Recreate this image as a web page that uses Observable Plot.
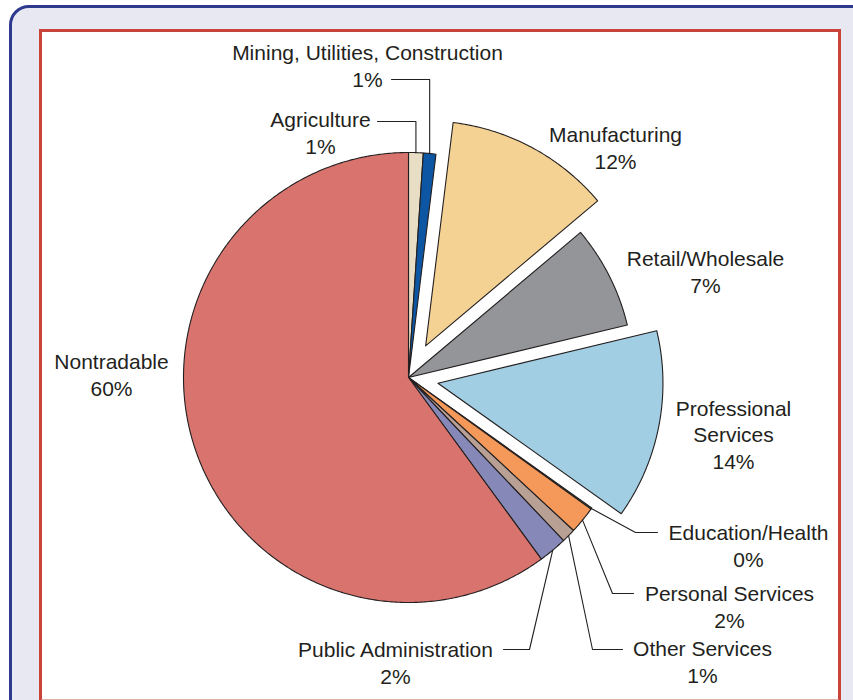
<!DOCTYPE html>
<html><head><meta charset="utf-8">
<script src="https://cdn.jsdelivr.net/npm/d3@7"></script>
<script src="https://cdn.jsdelivr.net/npm/@observablehq/plot@0.6"></script>
<style>
html,body{margin:0;padding:0;width:853px;height:700px;overflow:hidden;background:#fff;font-family:"Liberation Sans",Arial,sans-serif;}
#outer{position:absolute;left:9px;top:5px;width:900px;height:760px;border:3px solid #2d3a8e;border-radius:20px 0 0 0;background:#e8e8f3;box-sizing:border-box;}
#inner{position:absolute;left:39px;top:29px;width:802px;height:673px;border:3px solid #c9433a;border-bottom-color:#e6aaa5;background:#fff;box-sizing:border-box;}
#chart{position:absolute;left:0;top:0;}
</style></head><body>
<div id="outer"></div><div id="inner"></div><div id="chart"></div>
<script>
// ---- data ----
const sectors = ["Agriculture","Mining, Utilities, Construction","Manufacturing","Retail/Wholesale","Professional Services","Education/Health","Personal Services","Other Services","Public Administration","Nontradable"];
const shares = [1.05, 0.9, 11.9, 7.4, 13.6, 0.1, 1.95, 1.0, 2.05, 60.05];
const shareLabels = ["1%","1%","12%","7%","14%","0%","2%","1%","2%","60%"];

// ---- styles / layout ----
const colors = ["#e7dec5","#0c56a3","#f4d294","#939598","#a2cee3","#5b7f4f","#f5995a","#b9a095","#8688b8","#d8746d"];
const explode = [0,0,36,0,30,0,0,0,0,0];
const R = 225;            // pie radius (px)
const CX = 408, CY = 377; // pie centre (px)
// label anchor = centre x and last-line baseline, offsets from pie centre
const labelPos = {
  "Agriculture": [-88, -224],
  "Mining, Utilities, Construction": [-41, -291],
  "Manufacturing": [207, -209],
  "Retail/Wholesale": [297, -85],
  "Professional Services": [325, 91],
  "Education/Health": [340, 189],
  "Personal Services": [321, 250],
  "Other Services": [294, 305],
  "Public Administration": [-13, 306],
  "Nontradable": [-297, 18]
};
// leader lines: elbow (x null = vertical from slice edge), end x of horizontal
const leaders = {
  "Agriculture": {ex: null, ey: -256, hx: -31},
  "Mining, Utilities, Construction": {ex: null, ey: -298, hx: -17},
  "Education/Health": {ex: 227, ey: 155, hx: 249},
  "Personal Services": {ex: 204, ey: 216, hx: 225},
  "Other Services": {ex: 184, ey: 272, hx: 214},
  "Public Administration": {ex: 121, ey: 272, hx: 95}
};

const pie = d3.pie().sort(null).startAngle(0).endAngle(2*Math.PI)(shares);
const slices = pie.map((p, i) => ({name: sectors[i], a0: p.startAngle, a1: p.endAngle, mid: (p.startAngle+p.endAngle)/2, color: colors[i], off: explode[i], pct: shareLabels[i]}));

// polygon points for each slice
const pts = [];
for (const s of slices) {
  const ox = s.off*Math.sin(s.mid), oy = -s.off*Math.cos(s.mid);
  pts.push({name: s.name, color: s.color, x: ox, y: oy});
  const n = Math.max(2, Math.ceil((s.a1 - s.a0) / (Math.PI/360)));
  for (let k = 0; k <= n; k++) {
    const a = s.a0 + (s.a1 - s.a0) * k / n;
    pts.push({name: s.name, color: s.color, x: ox + R*Math.sin(a), y: oy - R*Math.cos(a)});
  }
  pts.push({name: s.name, color: s.color, x: ox, y: oy});
}

// leader line points
const lpts = [];
for (const s of slices) {
  const L = leaders[s.name];
  if (!L) continue;
  const sx = s.off*Math.sin(s.mid) + R*Math.sin(s.mid), sy = -s.off*Math.cos(s.mid) - R*Math.cos(s.mid);
  const ex = L.ex === null ? sx : L.ex;
  lpts.push({name: s.name, x: sx, y: sy}, {name: s.name, x: ex, y: L.ey}, {name: s.name, x: L.hx, y: L.ey});
}

const labels = slices.map(s => ({
  text: (s.name === "Professional Services" ? "Professional\nServices" : s.name) + "\n" + s.pct,
  x: labelPos[s.name][0], y: labelPos[s.name][1]
}));

const chart = Plot.plot({
  width: 853, height: 700,
  margin: 0,
  style: {background: "transparent", fontFamily: "'Liberation Sans', Arial, sans-serif"},
  x: {domain: [-CX, 853 - CX], range: [0, 853], axis: null},
  y: {domain: [-CY, 700 - CY], range: [0, 700], axis: null},
  color: {type: "identity"},
  marks: [
    Plot.line(pts, {x: "x", y: "y", z: "name", fill: "color", stroke: "#231f20", strokeWidth: 1.1, strokeLinejoin: "round"}),
    Plot.line(lpts, {x: "x", y: "y", z: "name", stroke: "#231f20", strokeWidth: 1.1}),
    Plot.text(labels, {x: "x", y: "y", text: "text", textAnchor: "middle", lineAnchor: "bottom", lineHeight: 1.24, fontSize: 21, fill: "#231f20"})
  ]
});
document.getElementById("chart").appendChild(chart);
</script>
</body></html>
